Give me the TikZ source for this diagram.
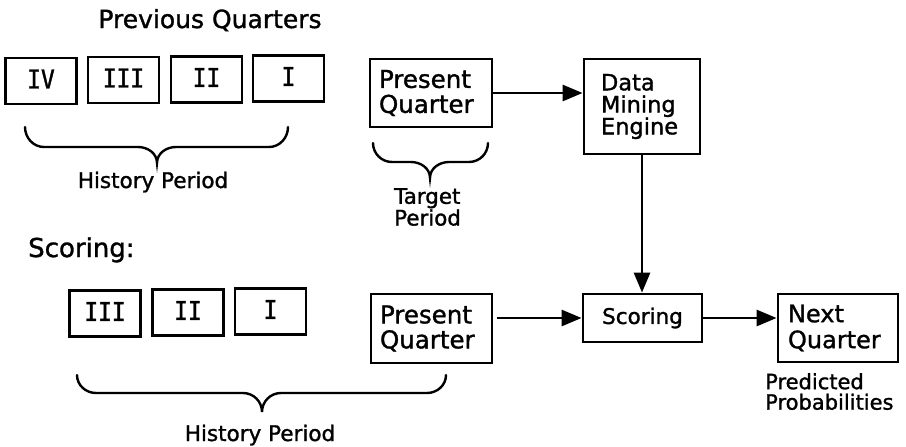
\documentclass[tikz,border=0pt]{standalone}
\usepackage{fontspec}
\setmainfont{DejaVu Sans}[FakeBold=1.3]
\newfontfamily\numfont{DejaVu Sans Mono}[FakeStretch=0.88,FakeBold=1.3]
\usetikzlibrary{arrows.meta}

\tikzset{
  box/.style={draw, line width=2.8pt, rectangle},
  numbox/.style={box, minimum width=71pt, minimum height=46pt, inner sep=0pt,
    text depth=4pt, font=\numfont\fontsize{26}{28}\selectfont},
  txtbox/.style={box, align=left, inner ysep=0pt},
  lbl/.style={inner sep=0pt},
  arr/.style={line width=2.8pt, -{Triangle[length=20pt,width=16pt]}},
  curly/.style={line width=2.4pt, line cap=round},
}

% horizontal curly brace: left x, right x, top y, bar y, tip y, tip x
\newcommand\curlybrace[6]{%
  \draw[curly] (#1,#3) to[out=-90,in=180] (#1+19,#4) -- (#6-19,#4)
    to[out=0,in=90] (#6,#5) to[out=90,in=180] (#6+19,#4) -- (#2-19,#4)
    to[out=0,in=-90] (#2,#3);}

\begin{document}
\begin{tikzpicture}[x=1pt,y=1pt]
\useasboundingbox (0,0) rectangle (906,-447);

% ---- model building ----
\node[lbl, anchor=base, font=\fontsize{25}{28}\selectfont] (prevtitle) at (210,-28) {Previous Quarters};

\node[numbox] (q4) at (41,-81) {IV};
\node[numbox] (q3) at (123.5,-80) {III};
\node[numbox] (q2) at (206.5,-79.5) {II};
\node[numbox] (q1) at (288.5,-78.5) {I};

\curlybrace{25}{288}{-127}{-147}{-163}{157}
\node[lbl, anchor=base, font=\fontsize{21.5}{24}\selectfont] (hist1) at (153,-188) {History Period};

\node[txtbox, text width=104pt, inner xsep=9pt, minimum height=68pt,
  font=\fontsize{24.5}{25}\selectfont] (pq1) at (431,-93) {Present\\Quarter};
\curlybrace{373}{488}{-143}{-162}{-178}{430}
\node[lbl, anchor=north west, align=left, font=\fontsize{21.4}{20}\selectfont] (target) at (394,-188) {Target\\Period};

\node[txtbox, text width=82pt, inner xsep=17pt, minimum height=95pt,
  font=\fontsize{22.5}{22}\selectfont] (dm) at (642,-106.5) {Data\\Mining\\Engine};

\draw[arr] (pq1.east) -- (pq1.east -| dm.west);

% ---- scoring ----
\node[lbl, anchor=base west, font=\fontsize{26}{28}\selectfont] (scoretitle) at (28,-257) {Scoring:};

\node[numbox] (s3) at (105,-313.5) {III};
\node[numbox] (s2) at (188,-312.5) {II};
\node[numbox] (s1) at (270.5,-311.5) {I};

\node[txtbox, text width=103pt, inner xsep=9pt, minimum height=69pt,
  font=\fontsize{24.5}{25}\selectfont] (pq2) at (431.5,-328.5) {Present\\Quarter};

\curlybrace{77}{446}{-375}{-393}{-412}{262}
\node[lbl, anchor=base, font=\fontsize{21.5}{24}\selectfont] (hist2) at (260,-441) {History Period};

\node[box, minimum width=119pt, minimum height=48pt, inner sep=0pt,
  font=\fontsize{21.5}{24}\selectfont] (sc) at (642.5,-318) {Scoring};

\node[txtbox, text width=100pt, inner xsep=10pt, minimum height=68pt,
  font=\fontsize{24}{26}\selectfont] (nq) at (838,-328) {Next\\Quarter};

\node[lbl, anchor=north west, align=left, font=\fontsize{21}{20.5}\selectfont] (pred) at (765,-373) {Predicted\\Probabilities};

\draw[arr] (dm.south) -- (dm.south |- sc.north);
\draw[arr] (sc.west -| pq2.east) ++(4,0) -- (sc.west);
\draw[arr] (sc.east) -- (sc.east -| nq.west);
\end{tikzpicture}
\end{document}
